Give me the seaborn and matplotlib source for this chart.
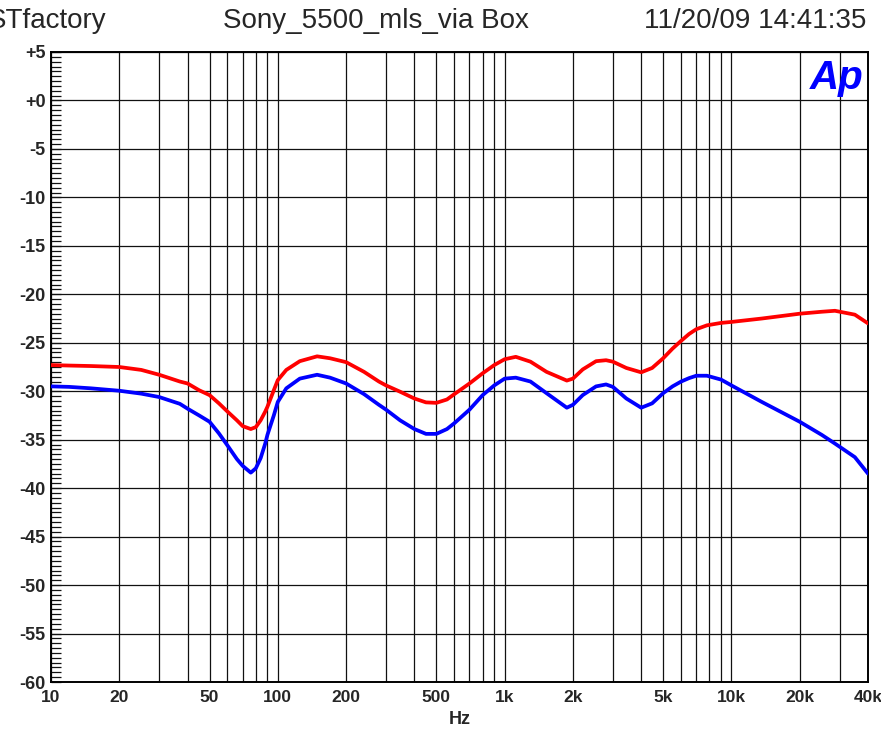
import numpy as np
import pandas as pd
import matplotlib
matplotlib.use("Agg")
import matplotlib.pyplot as plt
import seaborn as sns

# Frequency response measurement (Hz vs dB)
freq_hz = [10, 12, 15, 20, 25, 30, 37, 40, 45, 50, 55, 60, 66, 70, 76, 80, 84, 88, 90, 96,
           100, 109, 125, 149, 170, 200, 240, 279, 300, 346, 400, 450, 500, 557, 600,
           700, 800, 900, 1000, 1120, 1300, 1530, 1880, 2000, 2210, 2530, 2800, 3000,
           3440, 4000, 4470, 5000, 5500, 6000, 6500, 7000, 7800, 9000, 10000, 13600,
           20000, 25000, 28600, 35000, 40000]

red_db = [-27.3, -27.35, -27.4, -27.5, -27.8, -28.3, -29.0, -29.2, -29.9, -30.4, -31.25,
          -32.1, -33.0, -33.6, -33.9, -33.7, -33.0, -32.1, -31.6, -29.9,
          -28.85, -27.8, -26.9, -26.4, -26.6, -27.0, -28.0, -29.0, -29.4, -30.05, -30.75,
          -31.15, -31.2, -30.85, -30.3,
          -29.2, -28.15, -27.3, -26.7, -26.45, -26.95, -28.0, -28.9, -28.7, -27.75,
          -26.9, -26.8, -26.95,
          -27.6, -28.05, -27.6, -26.6, -25.6, -24.8, -24.1, -23.6, -23.2, -22.95, -22.85,
          -22.5, -22.0, -21.8, -21.7, -22.1, -23.0]

blue_db = [-29.5, -29.55, -29.7, -29.95, -30.25, -30.6, -31.3, -31.8, -32.5, -33.15, -34.35,
           -35.6, -37.0, -37.7, -38.4, -37.95, -36.9, -35.4, -34.5, -32.5,
           -31.1, -29.7, -28.7, -28.3, -28.6, -29.2, -30.3, -31.4, -31.9, -33.0, -33.9,
           -34.4, -34.4, -33.9, -33.3,
           -31.9, -30.4, -29.4, -28.7, -28.6, -29.0, -30.2, -31.7, -31.4, -30.4,
           -29.5, -29.3, -29.55,
           -30.75, -31.7, -31.25, -30.2, -29.5, -29.0, -28.65, -28.4, -28.4, -28.8, -29.4,
           -31.1, -33.15, -34.5, -35.4, -36.8, -38.5]

x_tick_vals = [10, 20, 50, 100, 200, 500, 1000, 2000, 5000, 10000, 20000, 40000]
x_tick_labels = ["10", "20", "50", "100", "200", "500", "1k", "2k", "5k", "10k", "20k", "40k"]
y_tick_vals = list(range(5, -61, -5))
y_tick_labels = ["+5", "+0"] + [f"-{abs(v)}" for v in y_tick_vals[2:]]

df = pd.DataFrame({
    "Hz": freq_hz * 2,
    "dB": red_db + blue_db,
    "ch": ["red"] * len(freq_hz) + ["blue"] * len(freq_hz),
})

sns.set_style("white")
plt.rcParams["font.family"] = ["Liberation Sans", "DejaVu Sans"]

W, H = 881, 731
fig = plt.figure(figsize=(W / 100, H / 100), dpi=100)
ax = fig.add_axes([51 / W, 1 - 682 / H, (868 - 51) / W, (682 - 52) / H])

sns.lineplot(data=df, x="Hz", y="dB", hue="ch", palette={"red": "#ff0000", "blue": "#0000ff"},
             linewidth=2.7, legend=False, ax=ax, zorder=3, estimator=None, sort=False)

ax.set_xscale("log")
ax.set_xlim(10, 40000)
ax.set_ylim(-60, 5)

# vertical grid at every decade subdivision
minor_x = [m * 10 ** d for d in range(1, 5) for m in range(1, 10)
           if 10 <= m * 10 ** d <= 40000 and m * 10 ** d not in x_tick_vals]
ax.set_xticks(x_tick_vals)
ax.set_xticklabels(x_tick_labels)
ax.set_xticks(minor_x, minor=True)
ax.xaxis.set_minor_formatter(matplotlib.ticker.NullFormatter())

ax.set_yticks(y_tick_vals)
ax.set_yticklabels(y_tick_labels)
ax.set_yticks(np.arange(-60, 5.01, 0.5), minor=True)

ax.grid(True, which="major", axis="both", color="#111111", linewidth=0.9)
ax.grid(True, which="minor", axis="x", color="#111111", linewidth=0.9)

ax.tick_params(axis="x", which="both", length=0, pad=6, labelsize=12.5)
ax.tick_params(axis="y", which="major", direction="in", length=7, width=0.9, pad=4,
               labelsize=13, left=True, color="#111111")
ax.tick_params(axis="y", which="minor", direction="in", length=7, width=0.9,
               left=True, color="#111111")
for lab in ax.get_xticklabels() + ax.get_yticklabels():
    lab.set_fontweight("bold")

for s in ax.spines.values():
    s.set_color("black")
    s.set_linewidth(1.4)

ax.set_xlabel("Hz", fontsize=13, fontweight="bold", labelpad=4)
ax.set_ylabel("")

# header line
fig.text(-12 / W, 1 - 21 / H, "STfactory", fontsize=20, ha="left", va="center")
fig.text(376 / W, 1 - 21 / H, "Sony_5500_mls_via Box", fontsize=20, ha="center", va="center")
fig.text(866 / W, 1 - 21 / H, "11/20/09 14:41:35", fontsize=20, ha="right", va="center")

# logo
fig.text(864 / W, 1 - 78 / H, "Ap", fontsize=29, color="#0000ff", fontweight="bold",
         fontstyle="italic", ha="right", va="center", zorder=5)

fig.savefig("out.png", dpi=100, facecolor="white")
